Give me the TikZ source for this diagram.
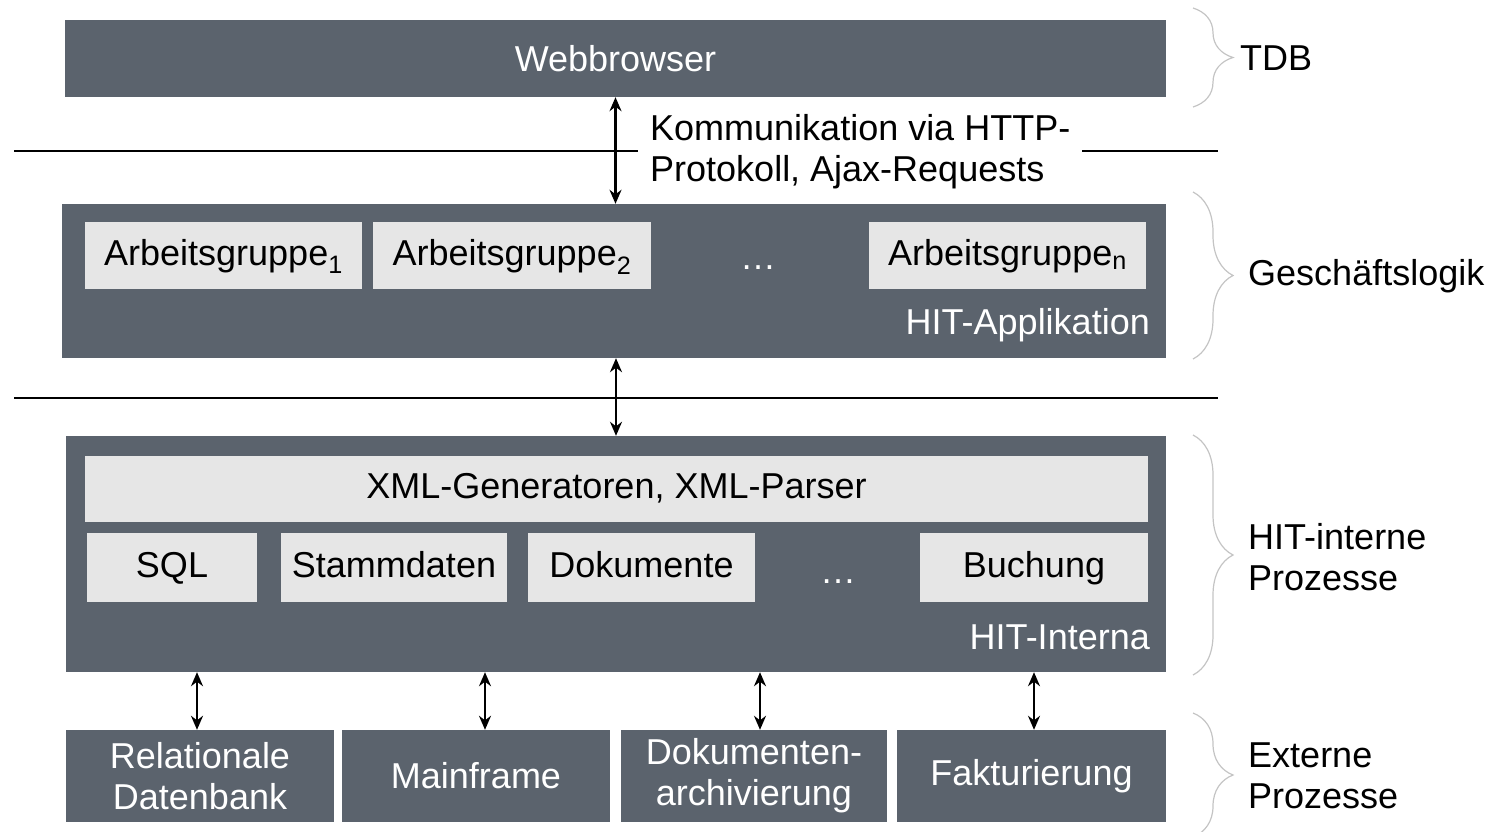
\documentclass[tikz,border=0pt]{standalone}
\usepackage{fontspec}
\setmainfont{Liberation Sans}
\usetikzlibrary{arrows.meta,decorations.pathreplacing}
\definecolor{schiefer}{HTML}{5B636D}
\definecolor{hellgrau}{HTML}{E6E6E6}
\definecolor{klammergrau}{HTML}{C4C4C4}

\begin{document}
\begin{tikzpicture}
  [x=1pt,y=-1pt,
   every node/.style={font=\fontsize{36}{41}\selectfont,inner sep=0pt},
   schicht/.style={fill=schiefer,text=white},
   modul/.style={fill=hellgrau,text=black,text height=26pt,text depth=7pt},
   pfeil/.style={line width=2.2pt,{Stealth[length=14pt,width=12pt]}-{Stealth[length=14pt,width=12pt]}},
   klammer/.style={decorate,decoration={brace,amplitude=40pt},draw=klammergrau,line width=1.2pt}]
  \useasboundingbox (0,0) rectangle (1496,832);

  % Trennlinien
  \draw[line width=1.4pt] (14,151) -- (1218,151);
  \draw[line width=1.4pt] (14,398) -- (1218,398);

  % TDB
  \node[schicht,minimum width=1101pt,minimum height=77pt] (web) at (615.5,58.5) {Webbrowser};

  % Geschaeftslogik
  \node[schicht,minimum width=1104pt,minimum height=154pt] (appl) at (614,281) {};
  \node[modul,minimum width=277pt,minimum height=67pt] (ag1) at (223.5,255.5) {Arbeitsgruppe\textsubscript{1}};
  \node[modul,minimum width=278pt,minimum height=67pt] (ag2) at (512,255.5) {Arbeitsgruppe\textsubscript{2}};
  \node[modul,minimum width=277pt,minimum height=67pt] (agn) at (1007.5,255.5) {Arbeitsgruppe\textsubscript{n}};
  \node[text=white] (punkte1) at (758,268) {\dots};
  \node[text=white,anchor=east] (appltitel) at (1150,325) {HIT-Applikation};

  % HIT-Interna
  \node[schicht,minimum width=1100pt,minimum height=236pt] (interna) at (616,554) {};
  \node[modul,minimum width=1063pt,minimum height=66pt] (xml) at (616.5,489) {XML-Generatoren, XML-Parser};
  \node[modul,minimum width=170pt,minimum height=69pt] (sql) at (172,567.5) {SQL};
  \node[modul,minimum width=226pt,minimum height=69pt] (stamm) at (394,567.5) {Stammdaten};
  \node[modul,minimum width=227pt,minimum height=69pt] (doku) at (641.5,567.5) {Dokumente};
  \node[text=white] (punkte2) at (838,582) {\dots};
  \node[modul,minimum width=228pt,minimum height=69pt] (buchung) at (1034,567.5) {Buchung};
  \node[text=white,anchor=east] (internatitel) at (1150,637) {HIT-Interna};

  % externe Systeme
  \node[schicht,align=center,minimum width=268pt,minimum height=92pt] (rdb) at (200,776) {Relationale\\Datenbank};
  \node[schicht,minimum width=268pt,minimum height=92pt] (mainframe) at (476,776) {Mainframe};
  \node[schicht,align=center,minimum width=266pt,minimum height=92pt] (archiv) at (754,776) {Dokumenten-\\archivierung};
  \node[schicht,minimum width=269pt,minimum height=92pt] (faktura) at (1031.5,776) {Fakturierung};

  % Verbindungen
  \draw[pfeil] (web.south) -- (web.south |- appl.north);
  \node[fill=white,anchor=west,align=left,inner xsep=12pt] (http) at (638,152)
    {Kommunikation via HTTP-\\Protokoll, Ajax-Requests};
  \draw[pfeil] ([xshift=2pt]appl.south) -- ([xshift=2pt]appl.south |- interna.north);
  \foreach \n/\dx in {rdb/-3,mainframe/9,archiv/6,faktura/2.5}
    \draw[pfeil] ([xshift=\dx]\n.north) -- ([xshift=\dx]\n.north |- interna.south);

  % Ebenen
  \draw[klammer] (1193,8) -- (1193,107);
  \draw[klammer] (1193,192) -- (1193,359);
  \draw[klammer] (1193,435) -- (1193,675);
  \draw[klammer] (1193,713) -- (1193,837);
  \node[anchor=west] (tdb) at (1240,58) {TDB};
  \node[anchor=west] (logik) at (1248,276) {Geschäftslogik};
  \node[anchor=west,align=left] (intern) at (1248,557) {HIT-interne\\Prozesse};
  \node[anchor=west,align=left] (extern) at (1248,776) {Externe\\Prozesse};
\end{tikzpicture}
\end{document}
